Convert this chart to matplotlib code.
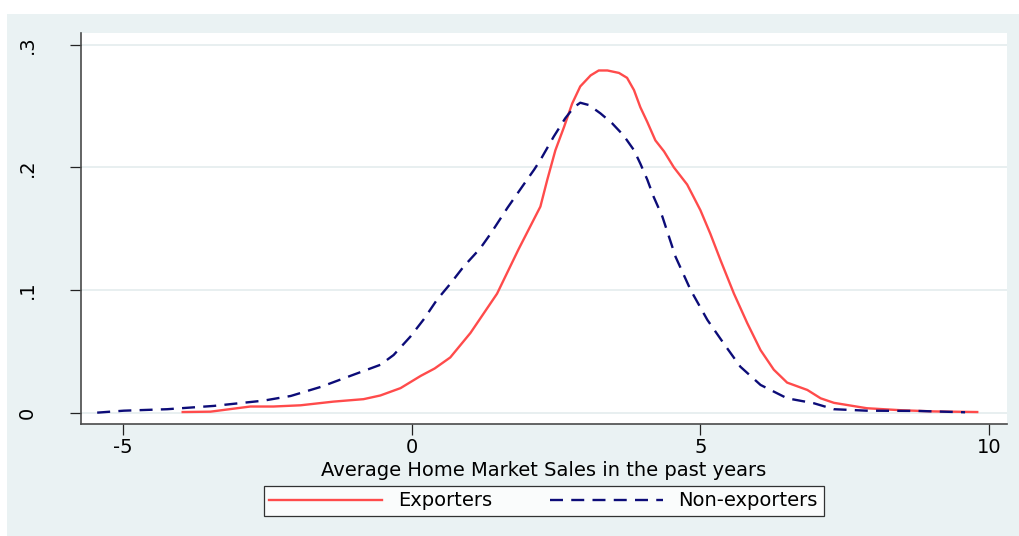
import matplotlib
matplotlib.use("Agg")
import matplotlib.pyplot as plt
from matplotlib.patches import Rectangle
from matplotlib.ticker import FuncFormatter

# kernel density estimates
exp_x = [-3.96, -3.48, -2.79, -2.39, -1.92, -1.35, -0.83, -0.54, -0.19, 0.16,
         0.40, 0.67, 1.02, 1.48, 1.85, 2.23, 2.35, 2.49, 2.64, 2.78, 2.92,
         3.10, 3.24, 3.39, 3.59, 3.73, 3.85, 3.96, 4.08, 4.22, 4.37, 4.54,
         4.77, 4.88, 5.00, 5.17, 5.35, 5.58, 5.81, 6.04, 6.27, 6.50, 6.85,
         7.08, 7.31, 7.88, 8.46, 9.04, 9.79]
exp_y = [0.0005, 0.0008, 0.005, 0.005, 0.006, 0.009, 0.011, 0.014, 0.020, 0.030,
         0.036, 0.045, 0.065, 0.097, 0.133, 0.168, 0.190, 0.214, 0.233, 0.252, 0.266,
         0.275, 0.279, 0.279, 0.277, 0.273, 0.263, 0.249, 0.237, 0.222, 0.213, 0.200,
         0.186, 0.176, 0.165, 0.146, 0.124, 0.097, 0.073, 0.051, 0.035, 0.0245, 0.0185,
         0.0117, 0.008, 0.0036, 0.002, 0.001, 0.0005]

nonexp_x = [-5.44, -4.98, -4.23, -3.42, -2.56, -2.09, -1.57, -1.00, -0.54, -0.31,
            -0.02, 0.21, 0.44, 0.67, 0.90, 1.19, 1.37, 1.66, 2.00, 2.12, 2.23,
            2.46, 2.66, 2.81, 2.92, 3.07, 3.27, 3.47, 3.67, 3.85, 3.96, 4.08,
            4.19, 4.34, 4.57, 4.83, 5.12, 5.40, 5.69, 6.04, 6.50, 6.96, 7.31,
            7.88, 8.75, 9.58]
nonexp_y = [0.0, 0.0016, 0.0028, 0.0055, 0.0098, 0.0136, 0.021, 0.031, 0.039, 0.047,
            0.062, 0.076, 0.092, 0.105, 0.119, 0.134, 0.146, 0.167, 0.190, 0.198, 0.206,
            0.225, 0.240, 0.249, 0.2527, 0.2508, 0.244, 0.236, 0.226, 0.214, 0.203, 0.190,
            0.176, 0.160, 0.127, 0.100, 0.0756, 0.0566, 0.0375, 0.0226, 0.0117, 0.0077, 0.0028,
            0.0016, 0.0014, 0.0003]

x_ticks = [-5, 0, 5, 10]
y_ticks = [0, 0.1, 0.2, 0.3]

plt.rcParams["font.family"] = ["DejaVu Sans"]
plt.rcParams["axes.unicode_minus"] = False
FS = 14

fig = plt.figure(figsize=(10.2, 5.36), dpi=100, facecolor="white")
# stata-style light background panel
bg = Rectangle((7 / 1020, 0), 1, 1 - 14 / 536, transform=fig.transFigure,
               facecolor="#eaf2f3", edgecolor="none", zorder=-10)
fig.patches.append(bg)

ax = fig.add_axes([81 / 1020, 1 - 424.3 / 536, 925.7 / 1020, 391.6 / 536])
ax.set_zorder(5)
ax.set_facecolor("white")

ax.plot(exp_x, exp_y, color="#ff4b4b", lw=1.7, label="Exporters")
ax.plot(nonexp_x, nonexp_y, color="#0c0c78", lw=1.7, ls=(0, (5.5, 3.5)),
        label="Non-exporters")

ax.set_xlim(-5.72, 10.30)
ax.set_ylim(-0.0095, 0.3098)
ax.set_xticks(x_ticks)
ax.set_yticks(y_ticks)
ax.yaxis.set_major_formatter(FuncFormatter(
    lambda v, p: "0" if v == 0 else ("%.1f" % v).lstrip("0")))
ax.grid(axis="y", color="#e4ecee", lw=1.2)
ax.set_axisbelow(True)

for s in ["top", "right"]:
    ax.spines[s].set_visible(False)
for s in ["left", "bottom"]:
    ax.spines[s].set_color("#4a4a4a")
    ax.spines[s].set_linewidth(1.2)

ax.tick_params(axis="both", direction="out", length=7.7, width=0.9,
               color="#222222", labelsize=FS)
ax.tick_params(axis="y", pad=24, labelrotation=90)
ax.tick_params(axis="x", pad=2)
for lab in ax.get_yticklabels():
    lab.set_va("center")

ax.set_xlabel("Average Home Market Sales in the past years", fontsize=FS)
ax.xaxis.set_label_coords(0.5, -0.094)

leg = ax.legend(loc="center", bbox_to_anchor=(0.533, 0.0653),
                bbox_transform=fig.transFigure, ncol=2, fontsize=FS,
                frameon=True, fancybox=False, handlelength=5.8,
                handletextpad=0.8, columnspacing=3.0, borderpad=0.3)
leg.get_frame().set_edgecolor("black")
leg.get_frame().set_linewidth(0.9)

fig.savefig("out.png", dpi=100, facecolor="white")
